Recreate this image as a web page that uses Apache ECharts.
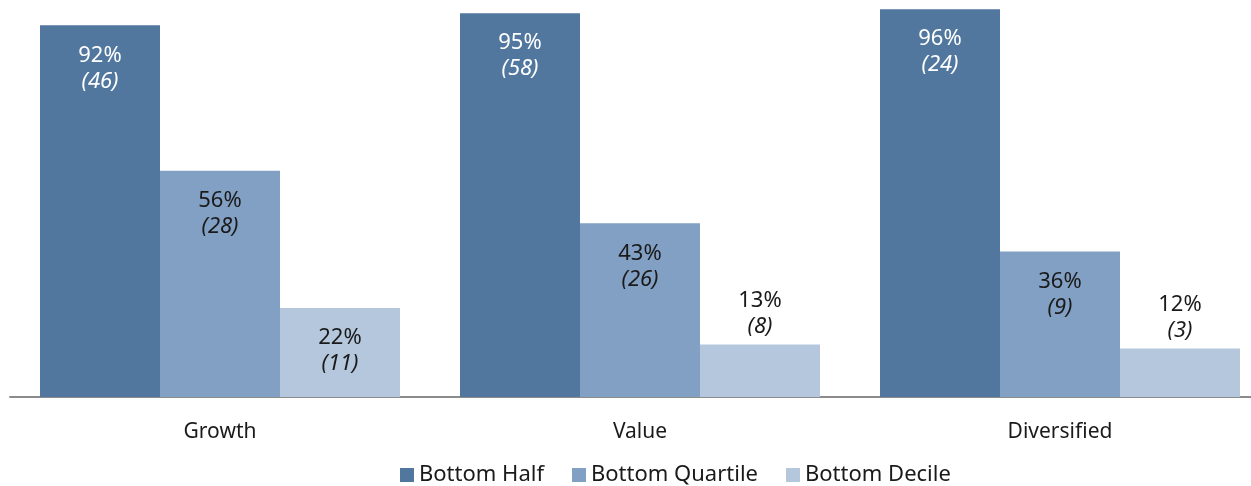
<!DOCTYPE html>
<html>
<head>
<meta charset="utf-8">
<script src="https://cdn.jsdelivr.net/npm/echarts@6/dist/echarts.min.js"></script>
<style>html,body{margin:0;padding:0;background:#fff}#c{width:1251px;height:486px}</style>
</head>
<body>
<div id="c"></div>
<script>
const categories = ['Growth', 'Value', 'Diversified'];
const seriesNames = ['Bottom Half', 'Bottom Quartile', 'Bottom Decile'];
const bottomHalfPct = [92, 95, 96];
const bottomHalfCount = [46, 58, 24];
const bottomQuartilePct = [56, 43, 36];
const bottomQuartileCount = [28, 26, 9];
const bottomDecilePct = [22, 13, 12];
const bottomDecileCount = [11, 8, 3];

const colors = ['#51779f', '#82a0c4', '#b4c7dd'];
const labelColors = ['#ffffff', '#1a1a1a', '#1a1a1a'];
const FONT = '"Source Sans Pro", "Noto Sans", sans-serif';

function makeSeries(name, pcts, counts, idx) {
  const rich = {
    a: { fontSize: 22, lineHeight: 26, color: labelColors[idx], fontFamily: FONT },
    b: { fontSize: 22, lineHeight: 26, fontStyle: 'italic', color: labelColors[idx], fontFamily: FONT }
  };
  return {
    name: name,
    type: 'bar',
    barWidth: 120,
    barGap: '0%',
    barCategoryGap: '14.2857%',
    itemStyle: { color: colors[idx] },
    data: pcts.map((v, i) => {
      const d = { value: v };
      if (v < 15) {
        d.label = { position: 'top', distance: 5 };
      }
      return d;
    }),
    label: {
      show: true,
      position: 'insideTop',
      distance: 17,
      formatter: p => '{a|' + p.value + '%}\n{b|(' + counts[p.dataIndex] + ')}',
      rich: rich
    }
  };
}

const chart = echarts.init(document.getElementById('c'), null, { renderer: 'canvas' });
chart.setOption({
  animation: false,
  textStyle: { fontFamily: FONT },
  grid: { left: 10, width: 1260, top: 0, bottom: 89, containLabel: false, outerBoundsMode: 'none' },
  legend: {
    top: 464,
    left: 400,
    padding: 0,
    itemWidth: 14,
    itemHeight: 14,
    itemGap: 28,
    icon: 'rect',
    textStyle: { fontSize: 22, color: '#1a1a1a', fontFamily: FONT },
    data: seriesNames
  },
  xAxis: {
    type: 'category',
    data: categories,
    axisLine: { lineStyle: { color: '#8c8c8c', width: 2 } },
    axisTick: { show: false },
    axisLabel: { fontSize: 21, color: '#1a1a1a', margin: 25, fontFamily: FONT }
  },
  yAxis: {
    type: 'value',
    min: 0,
    max: 98.27,
    show: false,
    splitLine: { show: false }
  },
  series: [
    makeSeries(seriesNames[0], bottomHalfPct, bottomHalfCount, 0),
    makeSeries(seriesNames[1], bottomQuartilePct, bottomQuartileCount, 1),
    makeSeries(seriesNames[2], bottomDecilePct, bottomDecileCount, 2)
  ]
});
</script>
</body>
</html>
